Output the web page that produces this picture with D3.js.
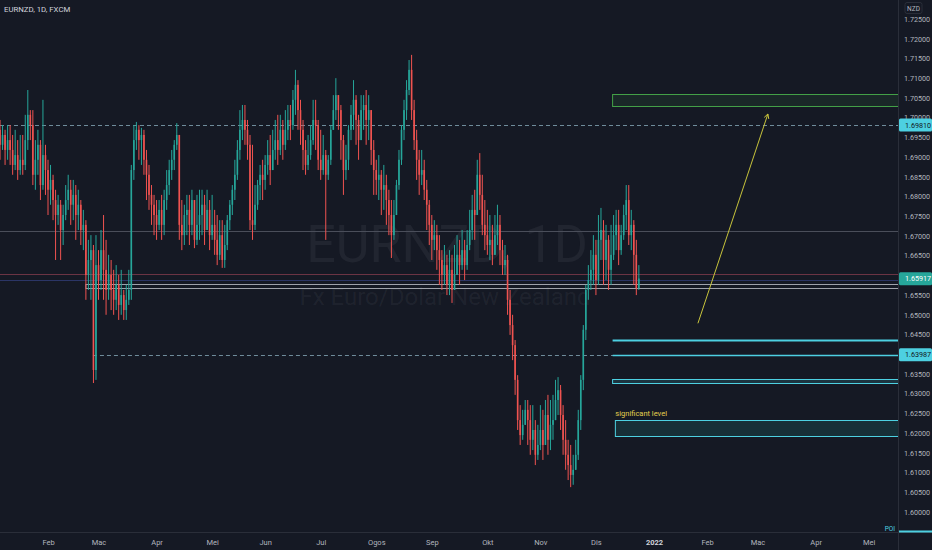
<!DOCTYPE html>
<html>
<head>
<meta charset="utf-8">
<script src="https://cdn.jsdelivr.net/npm/d3@7"></script>
<style>
  html, body { margin: 0; padding: 0; background: #151924; overflow: hidden; }
  text { font-family: Roboto, "Liberation Sans", sans-serif; }
</style>
</head>
<body>
<svg id="chart"></svg>
<script>
const W = 932, H = 550;
const plotRight = 898, plotBottom = 532;

// daily EURNZD candles, Mon-Fri from 4 Jan 2021 to 24 Dec 2021 (open = previous close)
const firstOpen = 1.7032;
const closes = [
  1.6969,1.6931,1.6956,1.6918,1.6943, 1.6918,1.6880,1.6905,1.6867,1.6893,
  1.6880,1.6943,1.7007,1.6981,1.6855, 1.6893,1.6931,1.6829,1.6905,1.6867,
  1.6817,1.6842,1.6791,1.6753,1.6779, 1.6715,1.6753,1.6791,1.6817,1.6779,
  1.6804,1.6753,1.6779,1.6715,1.6728, 1.6601,1.6639,1.6664,1.6360,1.6626,
  1.6588,1.6664,1.6614,1.6563,1.6601, 1.6563,1.6538,1.6576,1.6525,1.6550,
  1.6512,1.6538,1.6563,1.6867,1.6943, 1.6969,1.6943,1.6956,1.6893,1.6855,
  1.6804,1.6779,1.6753,1.6728,1.6766, 1.6728,1.6791,1.6829,1.6867,1.6893,
  1.6931,1.6956,1.6728,1.6702,1.6753, 1.6766,1.6728,1.6791,1.6690,1.6728,
  1.6753,1.6779,1.6715,1.6766,1.6702, 1.6728,1.6690,1.6652,1.6702,1.6639,
  1.6677,1.6740,1.6779,1.6817,1.6855, 1.6918,1.6969,1.6994,1.6969,1.6931,
  1.6740,1.6728,1.6779,1.6829,1.6855, 1.6842,1.6880,1.6905,1.6867,1.6918,
  1.6943,1.6918,1.6969,1.6931,1.6969, 1.6994,1.6981,1.7045,1.7083,1.7019,
  1.6969,1.6918,1.6880,1.6905,1.6943, 1.6994,1.6981,1.6893,1.6867,1.6905,
  1.6855,1.6893,1.6969,1.7019,1.7057, 1.7019,1.6943,1.6867,1.6893,1.6969,
  1.7007,1.7045,1.6994,1.6943,1.7019, 1.7032,1.6994,1.7019,1.6918,1.6867,
  1.6842,1.6855,1.6817,1.6829,1.6791, 1.6753,1.6702,1.6753,1.6829,1.6893,
  1.6969,1.7019,1.7070,1.7121,1.7019, 1.6943,1.6893,1.6855,1.6867,1.6817,
  1.6779,1.6728,1.6690,1.6702,1.6664, 1.6639,1.6601,1.6626,1.6576,1.6614,
  1.6563,1.6601,1.6652,1.6626,1.6664, 1.6626,1.6677,1.6715,1.6766,1.6753,
  1.6855,1.6804,1.6728,1.6702,1.6677, 1.6690,1.6652,1.6702,1.6728,1.6664,
  1.6626,1.6639,1.6538,1.6474,1.6423, 1.6335,1.6233,1.6195,1.6221,1.6259,
  1.6233,1.6183,1.6208,1.6145,1.6170, 1.6208,1.6170,1.6246,1.6183,1.6221,
  1.6233,1.6284,1.6309,1.6246,1.6183, 1.6145,1.6119,1.6094,1.6107,1.6145,
  1.6233,1.6335,1.6462,1.6563,1.6588, 1.6614,1.6652,1.6588,1.6690,1.6715,
  1.6639,1.6690,1.6614,1.6652,1.6702, 1.6728,1.6664,1.6702,1.6753,1.6791,
  1.6702,1.6728,1.6652,1.6568,1.6592
];
const highs = [
  1.7083,1.6994,1.6981,1.6969,1.6981, 1.6981,1.6956,1.6969,1.6943,1.6956,
  1.6956,1.7007,1.7070,1.7019,1.7019, 1.6943,1.6969,1.6943,1.7045,1.6931,
  1.6893,1.6880,1.6855,1.6817,1.6804, 1.6791,1.6779,1.6829,1.6855,1.6842,
  1.6842,1.6829,1.6817,1.6791,1.6766, 1.6740,1.6690,1.6702,1.6677,1.6702,
  1.6664,1.6715,1.6753,1.6690,1.6652, 1.6639,1.6614,1.6626,1.6601,1.6614,
  1.6563,1.6576,1.6614,1.6880,1.6981, 1.6989,1.6981,1.6974,1.6969,1.6918,
  1.6880,1.6829,1.6804,1.6791,1.6791, 1.6804,1.6817,1.6867,1.6893,1.6918,
  1.6943,1.6986,1.6956,1.6791,1.6779, 1.6804,1.6804,1.6817,1.6791,1.6804,
  1.6817,1.6817,1.6804,1.6817,1.6791, 1.6804,1.6766,1.6753,1.6740,1.6740,
  1.6728,1.6753,1.6791,1.6829,1.6893, 1.6943,1.7019,1.7032,1.7032,1.6994,
  1.6956,1.6931,1.6829,1.6842,1.6880, 1.6893,1.6905,1.6943,1.6956,1.6969,
  1.6994,1.7007,1.7007,1.6994,1.7019, 1.7032,1.7032,1.7070,1.7121,1.7095,
  1.7045,1.6994,1.6943,1.6956,1.6981, 1.7045,1.7045,1.6994,1.6969,1.6956,
  1.6918,1.6905,1.6981,1.7057,1.7100, 1.7057,1.7032,1.6956,1.6931,1.6981,
  1.7032,1.7095,1.7057,1.7007,1.7057, 1.7057,1.7070,1.7057,1.7019,1.6943,
  1.6893,1.6905,1.6867,1.6880,1.6855, 1.6817,1.6791,1.6791,1.6842,1.6918,
  1.6981,1.7045,1.7095,1.7146,1.7159, 1.7045,1.6969,1.6918,1.6918,1.6893,
  1.6842,1.6791,1.6753,1.6740,1.6728, 1.6702,1.6664,1.6677,1.6652,1.6664,
  1.6652,1.6677,1.6702,1.6690,1.6715, 1.6690,1.6715,1.6766,1.6804,1.6817,
  1.6893,1.6910,1.6855,1.6791,1.6766, 1.6753,1.6728,1.6753,1.6779,1.6753,
  1.6690,1.6677,1.6652,1.6563,1.6500, 1.6436,1.6347,1.6271,1.6259,1.6284,
  1.6284,1.6271,1.6271,1.6233,1.6221, 1.6271,1.6259,1.6284,1.6297,1.6284,
  1.6297,1.6335,1.6342,1.6322,1.6271, 1.6233,1.6183,1.6170,1.6145,1.6183,
  1.6259,1.6347,1.6474,1.6576,1.6626, 1.6664,1.6702,1.6690,1.6753,1.6771,
  1.6740,1.6728,1.6702,1.6728,1.6753, 1.6766,1.6766,1.6728,1.6779,1.6829,
  1.6829,1.6766,1.6740,1.6690,1.6626
];
const lows = [
  1.6943,1.6893,1.6918,1.6880,1.6893, 1.6880,1.6855,1.6867,1.6842,1.6855,
  1.6855,1.6867,1.6918,1.6943,1.6829, 1.6817,1.6855,1.6791,1.6817,1.6804,
  1.6753,1.6779,1.6740,1.6639,1.6728, 1.6639,1.6677,1.6740,1.6766,1.6728,
  1.6740,1.6690,1.6715,1.6677,1.6664, 1.6538,1.6563,1.6538,1.6327,1.6335,
  1.6538,1.6563,1.6538,1.6500,1.6538, 1.6512,1.6500,1.6512,1.6487,1.6500,
  1.6487,1.6487,1.6525,1.6538,1.6842, 1.6918,1.6893,1.6880,1.6855,1.6791,
  1.6766,1.6728,1.6702,1.6690,1.6715, 1.6690,1.6702,1.6766,1.6804,1.6842,
  1.6867,1.6918,1.6690,1.6664,1.6677, 1.6702,1.6677,1.6702,1.6669,1.6677,
  1.6690,1.6702,1.6677,1.6715,1.6664, 1.6690,1.6652,1.6626,1.6639,1.6619,
  1.6619,1.6664,1.6715,1.6753,1.6791, 1.6842,1.6893,1.6943,1.6931,1.6893,
  1.6715,1.6690,1.6715,1.6766,1.6791, 1.6791,1.6817,1.6855,1.6829,1.6867,
  1.6893,1.6880,1.6905,1.6893,1.6918, 1.6943,1.6943,1.6969,1.7007,1.6969,
  1.6931,1.6867,1.6855,1.6867,1.6893, 1.6931,1.6918,1.6867,1.6842,1.6855,
  1.6690,1.6842,1.6880,1.6969,1.6994, 1.6969,1.6893,1.6804,1.6842,1.6867,
  1.6943,1.6969,1.6931,1.6893,1.6943, 1.6969,1.6931,1.6943,1.6880,1.6804,
  1.6804,1.6791,1.6753,1.6766,1.6728, 1.6702,1.6644,1.6690,1.6753,1.6817,
  1.6880,1.6943,1.6994,1.7057,1.6994, 1.6918,1.6842,1.6804,1.6829,1.6791,
  1.6715,1.6677,1.6639,1.6664,1.6614, 1.6576,1.6563,1.6576,1.6550,1.6550,
  1.6530,1.6563,1.6601,1.6576,1.6614, 1.6588,1.6614,1.6664,1.6690,1.6690,
  1.6753,1.6766,1.6702,1.6664,1.6652, 1.6639,1.6626,1.6652,1.6677,1.6626,
  1.6601,1.6601,1.6500,1.6449,1.6385, 1.6297,1.6208,1.6170,1.6183,1.6221,
  1.6170,1.6145,1.6157,1.6119,1.6132, 1.6157,1.6132,1.6183,1.6145,1.6157,
  1.6183,1.6233,1.6246,1.6208,1.6145, 1.6107,1.6081,1.6063,1.6069,1.6107,
  1.6132,1.6208,1.6309,1.6436,1.6538, 1.6563,1.6576,1.6550,1.6576,1.6639,
  1.6576,1.6588,1.6563,1.6576,1.6639, 1.6664,1.6626,1.6652,1.6690,1.6715,
  1.6677,1.6664,1.6576,1.6550,1.6563
];

const priceTicks = [1.600,1.605,1.610,1.615,1.620,1.625,1.630,1.635,1.640,1.645,1.650,1.655,1.660,
                    1.665,1.670,1.675,1.680,1.685,1.690,1.695,1.700,1.705,1.710,1.715,1.720,1.725];
const monthNames = ["Jan","Feb","Mac","Apr","Mei","Jun","Jul","Ogos","Sep","Okt","Nov","Dis"];

// drawn levels (prices) and where they start (bar index)
const lastPrice = 1.65917;
const resistance = 1.69810;
const support = 1.63987;
const greyLine = 1.67125;
const redLine = 1.66027;
const blueLine = 1.65883;
const whiteBox = [1.65690, 1.65790];
const greenZone = [1.70287, 1.70591];
const cyanLine = 1.64369;
const cyanBox = [1.63262, 1.63371];
const sigZone = [1.61920, 1.62325];
const arrowFrom = [277.4, 1.64784];
const arrowTo = [305.1, 1.70091];

// bar dates: weekdays only, the way the chart spaces them
const bars = d3.utcDays(new Date(Date.UTC(2021, 0, 4)), new Date(Date.UTC(2022, 5, 1)))
  .filter(d => d.getUTCDay() % 6 !== 0);
const candles = closes.map((c, i) => ({ i, o: i ? closes[i - 1] : firstOpen, h: highs[i], l: lows[i], c }));

const x = d3.scaleLinear().domain([0, 356]).range([-2.5, -2.5 + 356 * 2.525]);
const y = d3.scaleLinear().domain([1.600, 1.725]).range([512, 19]);

const svg = d3.select("#chart").attr("width", W).attr("height", H)
  .attr("xmlns", "http://www.w3.org/2000/svg");
svg.append("rect").attr("width", W).attr("height", H).attr("fill", "#151924");

svg.append("defs").append("clipPath").attr("id", "plot")
  .append("rect").attr("width", plotRight).attr("height", plotBottom);

const plot = svg.append("g").attr("clip-path", "url(#plot)");

// watermark
plot.append("text").attr("x", 447).attr("y", 262).attr("text-anchor", "middle")
  .attr("font-size", 52).attr("fill", "rgba(178,181,190,0.08)").text("EURNZD, 1D");
plot.append("text").attr("x", 445).attr("y", 305).attr("text-anchor", "middle")
  .attr("font-size", 24).attr("fill", "rgba(178,181,190,0.08)").text("Fx Euro/Dolar New Zealand");

function hline(price, x0, color, width, dash) {
  plot.append("line")
    .attr("x1", x0).attr("x2", plotRight)
    .attr("y1", Math.round(y(price)) + 0.5).attr("y2", Math.round(y(price)) + 0.5)
    .attr("stroke", color).attr("stroke-width", width)
    .attr("stroke-dasharray", dash || null);
}
function zone(range, i0, stroke, fill, width) {
  plot.append("rect")
    .attr("x", x(i0)).attr("y", Math.round(y(range[1])) + 0.5)
    .attr("width", plotRight + 5 - x(i0)).attr("height", Math.round(y(range[0]) - y(range[1])))
    .attr("fill", fill).attr("stroke", stroke).attr("stroke-width", width || 1);
}

hline(greyLine, 0, "#4a4e5a", 1);
hline(redLine, 0, "#6b3444", 1);
hline(blueLine, 0, "#2b3566", 1);
hline(resistance, 0, "#6f8c9b", 1, "4,3");
hline(support, x(37.8), "#6f8c9b", 1, "4,3");
zone(whiteBox, 35, "#aeb1ba", "none", 0.9);

// candles
const g = plot.append("g");
g.selectAll("line.wick").data(candles).enter().append("line")
  .attr("class", "wick")
  .attr("x1", d => x(d.i)).attr("x2", d => x(d.i))
  .attr("y1", d => y(Math.max(d.h, d.o, d.c))).attr("y2", d => y(Math.min(d.l, d.o, d.c)))
  .attr("stroke", d => d.c >= d.o ? "#26a69a" : "#ef5350").attr("stroke-width", 1);
g.selectAll("rect.body").data(candles).enter().append("rect")
  .attr("class", "body")
  .attr("x", d => x(d.i) - 0.8).attr("width", 1.6)
  .attr("y", d => y(Math.max(d.o, d.c)))
  .attr("height", d => Math.max(1, Math.abs(y(d.o) - y(d.c))))
  .attr("fill", d => d.c >= d.o ? "#26a69a" : "#ef5350");

// drawings on the right
zone(greenZone, 243.6, "#43a047", "rgba(67,160,71,0.12)");
hline(cyanLine, x(243.6), "#4dd0e1", 2);
hline(support, x(243.6), "#4dd0e1", 1.5);
zone(cyanBox, 243.6, "#4dd0e1", "rgba(77,208,225,0.15)");
zone(sigZone, 244.7, "#4dd0e1", "rgba(38,166,154,0.16)");
plot.append("text").attr("x", x(244.7)).attr("y", 415.5)
  .attr("font-size", 7.5).attr("fill", "#e3cf4f").text("significant level");

const ax0 = x(arrowFrom[0]), ay0 = y(arrowFrom[1]), ax1 = x(arrowTo[0]), ay1 = y(arrowTo[1]);
const ang = Math.atan2(ay1 - ay0, ax1 - ax0);
plot.append("path")
  .attr("d", `M${ax0},${ay0}L${ax1},${ay1}` +
    `M${ax1 - 5 * Math.cos(ang - 0.5)},${ay1 - 5 * Math.sin(ang - 0.5)}L${ax1},${ay1}` +
    `L${ax1 - 5 * Math.cos(ang + 0.5)},${ay1 - 5 * Math.sin(ang + 0.5)}`)
  .attr("fill", "none").attr("stroke", "#c8c43c").attr("stroke-width", 1);

// axes frame
svg.append("line").attr("x1", plotRight + 0.5).attr("x2", plotRight + 0.5).attr("y1", 0).attr("y2", H)
  .attr("stroke", "#2a2e39");
svg.append("line").attr("x1", 0).attr("x2", W).attr("y1", plotBottom + 0.5).attr("y2", plotBottom + 0.5)
  .attr("stroke", "#2a2e39");

// price axis; labels that sit under a price tag are covered in the chart, so leave them out
const tagPrices = [resistance, lastPrice, support];
const shownTicks = priceTicks.filter(p => tagPrices.every(t => Math.abs(y(p) - y(t)) > 6));
const yAxis = d3.axisRight(y).tickValues(shownTicks).tickFormat(d3.format(".5f")).tickSize(0).tickPadding(6);
const yg = svg.append("g").attr("transform", `translate(${plotRight},0)`).call(yAxis);
yg.select(".domain").remove();
yg.selectAll("text").attr("font-size", 7.2).attr("fill", "#b2b5be").attr("font-family", "Roboto, sans-serif");

function priceTag(price, bg, fg) {
  const t = svg.append("g").attr("transform", `translate(${plotRight + 1},${y(price)})`);
  t.append("rect").attr("x", 0).attr("y", -6.5).attr("width", W - plotRight - 1).attr("height", 13)
    .attr("rx", 1.5).attr("fill", bg);
  t.append("text").attr("x", 6).attr("y", 2.6).attr("font-size", 7.2).attr("fill", fg)
    .text(d3.format(".5f")(price));
}
priceTag(resistance, "#4dd0e1", "#131722");
priceTag(lastPrice, "#26a69a", "#ffffff");
priceTag(support, "#4dd0e1", "#131722");

svg.append("rect").attr("x", 905).attr("y", 2.5).attr("width", 17).attr("height", 11).attr("rx", 2)
  .attr("fill", "#151924").attr("stroke", "#2a2e39");
svg.append("text").attr("x", 913.5).attr("y", 10.5).attr("text-anchor", "middle")
  .attr("font-size", 6.5).attr("fill", "#b2b5be").text("NZD");

svg.append("line").attr("x1", plotRight + 1).attr("x2", W).attr("y1", 531.5).attr("y2", 531.5)
  .attr("stroke", "#4dd0e1").attr("stroke-width", 2);
svg.append("text").attr("x", 895).attr("y", 531).attr("text-anchor", "end")
  .attr("font-size", 6.5).attr("fill", "#4dd0e1").attr("font-family", "DejaVu Serif, serif").text("POI");

// time axis: first bar of every month
const monthTicks = bars.map((d, i) => i)
  .filter(i => i > 0 && bars[i].getUTCMonth() !== bars[i - 1].getUTCMonth());
const xAxis = d3.axisBottom(x).tickValues(monthTicks).tickSize(0).tickPadding(8)
  .tickFormat(i => bars[i].getUTCMonth() === 0 ? String(bars[i].getUTCFullYear()) : monthNames[bars[i].getUTCMonth()]);
const xg = svg.append("g").attr("transform", `translate(0,${plotBottom})`).call(xAxis);
xg.select(".domain").remove();
xg.selectAll("text").attr("font-size", 7.5).attr("font-family", "Roboto, sans-serif")
  .attr("fill", i => bars[i].getUTCMonth() === 0 ? "#d1d4dc" : "#b2b5be")
  .attr("font-weight", i => bars[i].getUTCMonth() === 0 ? 700 : 400);
xg.selectAll(".tick").filter(i => x(i) > plotRight - 10).remove();

// legend
svg.append("text").attr("x", 4).attr("y", 12).attr("font-size", 7.8).attr("fill", "#d1d4dc")
  .text("EURNZD, 1D, FXCM");
</script>
</body>
</html>
